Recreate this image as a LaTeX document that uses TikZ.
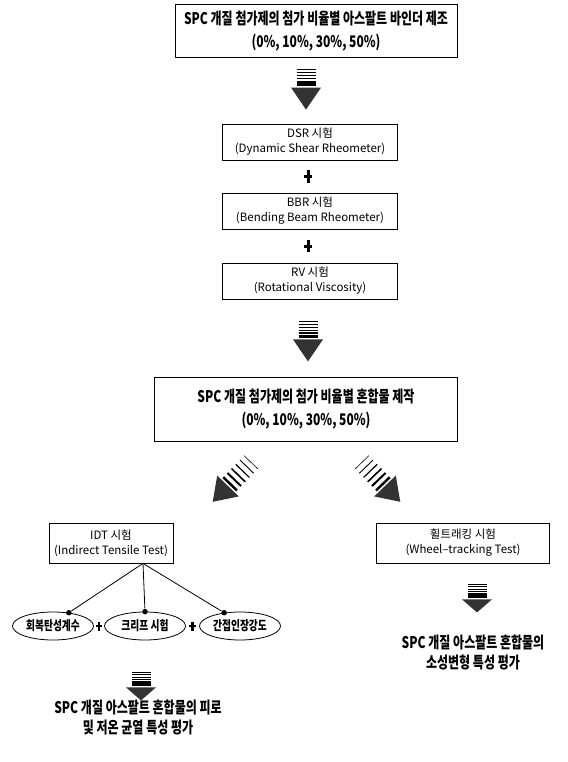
\documentclass[tikz,border=0pt]{standalone}
\usepackage{fontspec}
\setmainfont{Noto Sans CJK KR}
\newfontfamily\krhead[FakeStretch=0.75]{Noto Sans CJK KR}
\usetikzlibrary{shapes.geometric,calc,positioning}

\begin{document}
\begin{tikzpicture}[x=1pt, y=-1pt, line width = 0.8pt,
		bigbox/.style = {draw, align=center, inner sep=0pt,
		font=\krhead\bfseries\fontsize{16}{23}\selectfont},
		testbox/.style = {draw, align=center, inner sep=0pt,
		minimum width=175pt, minimum height=36pt,
		font=\fontsize{11.5}{15}\selectfont},
		oval/.style = {ellipse, draw, inner sep=0pt, minimum width=81pt,
		minimum height=28pt, font=\krhead\bfseries\fontsize{13}{14}\selectfont},
		dot/.style = {circle, fill, inner sep=0pt, minimum size=5.5pt},
		result/.style = {align=center, font=\krhead\bfseries\fontsize{16}{20}\selectfont},
		pics/fatarrow/.style 2 args = {code = {
			\foreach \k/\w in {0/0.6,1/0.9,2/1.2,3/1.6,4/2.0,5/2.5}
				\draw[line width=\w pt, line cap=butt] (-9.5,-3-#1*5+#1*\k) -- (9.5,-3-#1*5+#1*\k);
			\fill[black!80] (-15,0) -- (15,0) -- (0,#2) -- cycle;
		}},
		pics/cross/.style = {code = {
			\draw[line width=#1*0.5pt, line cap=butt] (-#1*0.7,0) -- (#1*0.7,0) (0,-#1) -- (0,#1);
		}}]

	\useasboundingbox (0,0) rectangle (567,762);

	% binder and binder tests
	\node [bigbox, minimum width=282pt, minimum height=53pt] (binder) at (316,31)
		{SPC 개질 첨가제의 첨가 비율별 아스팔트 바인더 제조\\(0\%, 10\%, 30\%, 50\%)};
	\node [testbox] (dsr) at (310,142) {DSR 시험\\(Dynamic Shear Rheometer)};
	\node [testbox] (bbr) at (310,211) {BBR 시험\\(Bending Beam Rheometer)};
	\node [testbox] (rv) at (310,281) {RV 시험\\(Rotational Viscosity)};

	\pic at ($(dsr.north)+(-4,-36)$) {fatarrow={3}{22}};
	\pic at ($(dsr.south)!0.5!(bbr.north)+(-2,0)$) {cross=6};
	\pic at ($(bbr.south)!0.5!(rv.north)+(-2,0)$) {cross=6};
	\pic at ($(rv.south)+(-2,40)$) {fatarrow={3}{22}};

	% mixture
	\node [bigbox, minimum width=303pt, minimum height=64pt] (mix) at (306,409)
		{SPC 개질 첨가제의 첨가 비율별 혼합물 제작\\(0\%, 10\%, 30\%, 50\%)};

	\pic [rotate=-44] at (228,486) {fatarrow={6}{22}};
	\pic [rotate=44] at (385,486) {fatarrow={6}{22}};

	% mixture tests
	\node [testbox, minimum width=124pt, minimum height=40pt] (idt) at (111,543)
		{IDT 시험\\(Indirect Tensile Test)};
	\node [testbox, minimum width=173pt, minimum height=40pt] (wheel) at (463,543)
		{휠트래킹 시험\\(Wheel--tracking Test)};

	\node [oval] (e1) at (53,626) {회복탄성계수};
	\node [oval] (e2) at (145,626) {크리프 시험};
	\node [oval] (e3) at (240,626) {간접인장강도};
	\pic at ($(e1.east)!0.5!(e2.west)$) {cross=4.5};
	\pic at ($(e2.east)!0.5!(e3.west)$) {cross=4.5};

	\coordinate (apex) at ($(idt.south)+(32,0)$);
	\node [dot] (d1) at (e1.40) {};
	\node [dot] (d2) at (e2.north) {};
	\node [dot] (d3) at (e3.140) {};
	\draw (apex) -- (d1);
	\draw (apex) -- (d2);
	\draw (apex) -- (d3);

	% evaluation
	\pic at ($(e2.south)+(-4,47)$) {fatarrow={2.4}{13}};
	\pic at ($(wheel.south)+(14,36)$) {fatarrow={2.4}{13}};
	\node [result] (fatigue) at (138,717)
		{SPC 개질 아스팔트 혼합물의 피로\\및 저온 균열 특성 평가};
	\node [result] (rutting) at (473,652)
		{SPC 개질 아스팔트 혼합물의\\소성변형 특성 평가};
\end{tikzpicture}
\end{document}
